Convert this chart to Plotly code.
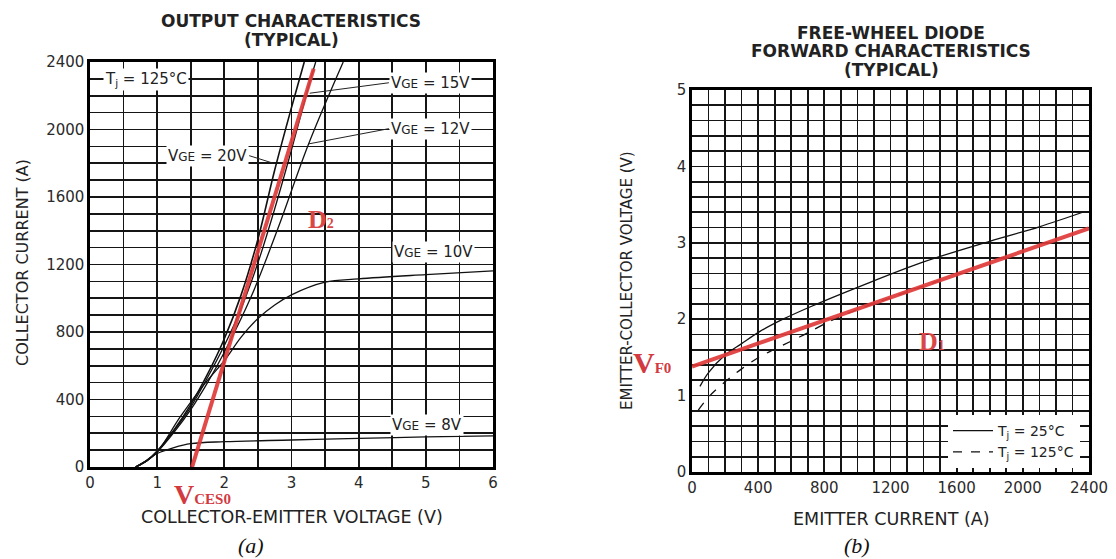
import plotly.graph_objects as go

# ---------------- data: (a) output characteristics ----------------
vge20_v = [0.68, 0.85, 1.0, 1.25, 1.5, 1.75, 2.0, 2.25, 2.5, 2.75, 3.0, 3.19]
vge20_i = [0, 40, 95, 220, 370, 550, 760, 1020, 1350, 1760, 2130, 2400]
vge15_v = [0.68, 0.85, 1.0, 1.25, 1.5, 1.75, 2.0, 2.25, 2.5, 2.75, 3.0, 3.25, 3.36]
vge15_i = [0, 40, 92, 215, 355, 530, 720, 940, 1210, 1530, 1880, 2250, 2400]
vge12_v = [0.68, 0.85, 1.0, 1.25, 1.5, 1.75, 2.0, 2.4, 2.8, 3.25, 3.77]
vge12_i = [0, 38, 88, 205, 340, 500, 680, 1010, 1416, 1910, 2400]
vge10_v = [0.68, 0.85, 1.0, 1.34, 1.7, 2.0, 2.25, 2.5, 2.75, 3.0, 3.5, 4.0, 5.0, 6.0]
vge10_i = [0, 38, 88, 295, 490, 630, 770, 880, 960, 1020, 1095, 1115, 1140, 1162]
vge8_v = [0.68, 0.85, 1.0, 1.25, 1.5, 2.0, 3.0, 4.0, 5.0, 6.0]
vge8_i = [0, 40, 80, 115, 138, 150, 160, 170, 178, 185]
d2_v = [1.52, 3.33]
d2_i = [0, 2360]

# ---------------- data: (b) free-wheel diode ----------------
tj25_i = [48, 100, 200, 300, 411, 550, 713, 1016, 1400, 1800, 2100, 2362]
tj25_v = [1.12, 1.30, 1.53, 1.68, 1.84, 2.00, 2.16, 2.43, 2.75, 3.02, 3.21, 3.40]
tj125_i = [38, 100, 210, 300, 411, 502, 653, 900, 1200, 1500]
tj125_v = [0.81, 0.98, 1.20, 1.35, 1.51, 1.61, 1.77, 2.04, 2.28, 2.51]
d1_i = [0, 2400]
d1_v = [1.38, 3.19]

x1_ticks = [0, 1, 2, 3, 4, 5, 6]
y1_ticks = [0, 400, 800, 1200, 1600, 2000, 2400]
x2_ticks = [0, 400, 800, 1200, 1600, 2000, 2400]
y2_ticks = [0, 1, 2, 3, 4, 5]

FONT = "DejaVu Sans"
SERIF = "Liberation Serif"
RED = "#e03a3a"
GRID = "#151515"
W, H = 1116, 559

fig = go.Figure()

def black_line(x, y, xa, ya, dash="solid", width=1.3, name=None, legend=False):
    fig.add_trace(go.Scatter(x=x, y=y, mode="lines", xaxis=xa, yaxis=ya,
                             line=dict(color="#111111", width=width, dash=dash, shape="spline"),
                             name=name, showlegend=legend, hoverinfo="skip"))

black_line(vge8_v, vge8_i, "x", "y")
black_line(vge10_v, vge10_i, "x", "y")
black_line(vge12_v, vge12_i, "x", "y")
black_line(vge15_v, vge15_i, "x", "y")
black_line(vge20_v, vge20_i, "x", "y", width=1.6)
fig.add_trace(go.Scatter(x=d2_v, y=d2_i, mode="lines", xaxis="x", yaxis="y",
                         line=dict(color=RED, width=4), opacity=0.92,
                         showlegend=False, hoverinfo="skip"))

black_line(tj25_i, tj25_v, "x2", "y2", name="T<sub>j</sub> = 25°C", legend=True)
black_line(tj125_i, tj125_v, "x2", "y2", dash="dash", name="T<sub>j</sub> = 125°C", legend=True)
fig.add_trace(go.Scatter(x=d1_i, y=d1_v, mode="lines", xaxis="x2", yaxis="y2",
                         line=dict(color=RED, width=4), opacity=0.92,
                         showlegend=False, hoverinfo="skip"))

def ax(domain, rng, tickvals, minor_dtick, anchor):
    return dict(domain=domain, range=rng, tickvals=tickvals, anchor=anchor,
                showgrid=True, gridcolor=GRID, gridwidth=1.7,
                minor=dict(dtick=minor_dtick, showgrid=True, gridcolor=GRID, gridwidth=1.7, ticks=""),
                showline=True, mirror=True, linecolor="#000", linewidth=2.6,
                zeroline=False, ticks="", fixedrange=True, automargin=False,
                tickfont=dict(family=FONT, size=15, color="#2a2a2a"))

fig.update_layout(
    width=W, height=H, margin=dict(l=0, r=0, t=0, b=0, pad=0, autoexpand=False),
    paper_bgcolor="white", plot_bgcolor="white",
    xaxis=ax([90 / W, 493 / W], [0, 6], x1_ticks, 0.5, "y"),
    yaxis=ax([1 - 467 / H, 1 - 62 / H], [0, 2400], y1_ticks, 100, "x"),
    xaxis2=ax([692 / W, 1089 / W], [0, 2400], x2_ticks, 100, "y2"),
    yaxis2=ax([1 - 472 / H, 1 - 90 / H], [0, 5], y2_ticks, 0.2, "x2"),
    legend=dict(x=1080 / W, y=1 - 468 / H, xanchor="right", yanchor="bottom",
                bgcolor="white", borderwidth=0, font=dict(family=FONT, size=14, color="#222"),
                tracegroupgap=0, itemwidth=40),
)

ann = []

def txt(text, x, y, size, xref="paper", yref="paper", xanchor="center", yanchor="middle",
        family=FONT, color="#222", bg=None, angle=0):
    a = dict(text=text, x=x, y=y, xref=xref, yref=yref, xanchor=xanchor, yanchor=yanchor,
             showarrow=False, font=dict(family=family, size=size, color=color), textangle=angle)
    if bg:
        a["bgcolor"] = bg
        a["borderpad"] = 1
    ann.append(a)

def px(x, y):
    return x / W, 1 - y / H

# titles
for t, (x, y) in [("<b>OUTPUT CHARACTERISTICS</b>", (291, 21)), ("<b>(TYPICAL)</b>", (291, 40)),
                  ("<b>FREE-WHEEL DIODE</b>", (891, 33)), ("<b>FORWARD CHARACTERISTICS</b>", (891, 51)),
                  ("<b>(TYPICAL)</b>", (891, 70))]:
    X, Y = px(x, y)
    txt(t, X, Y, 17)

# axis titles
X, Y = px(292, 517); txt("COLLECTOR-EMITTER VOLTAGE (V)", X, Y, 17.5)
X, Y = px(891, 519); txt("EMITTER CURRENT (A)", X, Y, 17.5)
X, Y = px(22, 263); txt("COLLECTOR CURRENT (A)", X, Y, 16, angle=-90)
X, Y = px(627, 280); txt("EMITTER-COLLECTOR VOLTAGE (V)", X, Y, 15, angle=-90)

# captions
X, Y = px(251, 545); txt("<i>(a)</i>", X, Y, 22, family=SERIF, color="#111")
X, Y = px(857, 545); txt("<i>(b)</i>", X, Y, 22, family=SERIF, color="#111")

# labels inside (a)
SUB = "<span style='font-size:12px'>GE</span>"
txt("T<sub>j</sub> = 125°C", 0.19, 2296, 15, xref="x", yref="y", xanchor="left", bg="white")
txt("V" + SUB + " = 10V", 4.50, 1272, 15, xref="x", yref="y", xanchor="left", bg="white")
txt("V" + SUB + " = 8V", 4.47, 251, 15, xref="x", yref="y", xanchor="left", bg="white")

def leader(text, x, y, axv, ayv, xanchor):
    ann.append(dict(text=text, x=x, y=y, ax=axv, ay=ayv, xref="x", yref="y", axref="x", ayref="y",
                    xanchor=xanchor, yanchor="middle", showarrow=True, arrowhead=0, arrowwidth=1,
                    arrowcolor="#222", bgcolor="white", borderpad=1,
                    font=dict(family=FONT, size=15, color="#222")))

leader("V" + SUB + " = 15V", 3.27, 2215, 4.45, 2277, "left")
leader("V" + SUB + " = 12V", 3.26, 1915, 4.45, 2005, "left")
leader("V" + SUB + " = 20V", 2.73, 1800, 2.37, 1845, "right")

# red annotations
txt("<b>D</b><span style='font-size:14px'><b>2</b></span>", 3.44, 1466, 26, xref="x", yref="y",
    family=SERIF, color="#d94848")
txt("<b>D</b><span style='font-size:14px'><b>1</b></span>", 1451, 1.71, 26, xref="x2", yref="y2",
    family=SERIF, color="#d94848")
X, Y = px(172, 494)
txt("<b>V</b><span style='font-size:15px'><b>CES0</b></span>", X, Y, 28, xanchor="left",
    family=SERIF, color="#d23a3f")
X, Y = px(631, 362)
txt("<b>V</b><span style='font-size:15px'><b>F0</b></span>", X, Y, 30, xanchor="left",
    family=SERIF, color="#d23a3f")

fig.update_layout(annotations=ann)
fig.write_html("out.html", config={"displayModeBar": False, "staticPlot": True},
               post_script="document.body.style.margin='0';document.body.style.overflow='hidden';")
